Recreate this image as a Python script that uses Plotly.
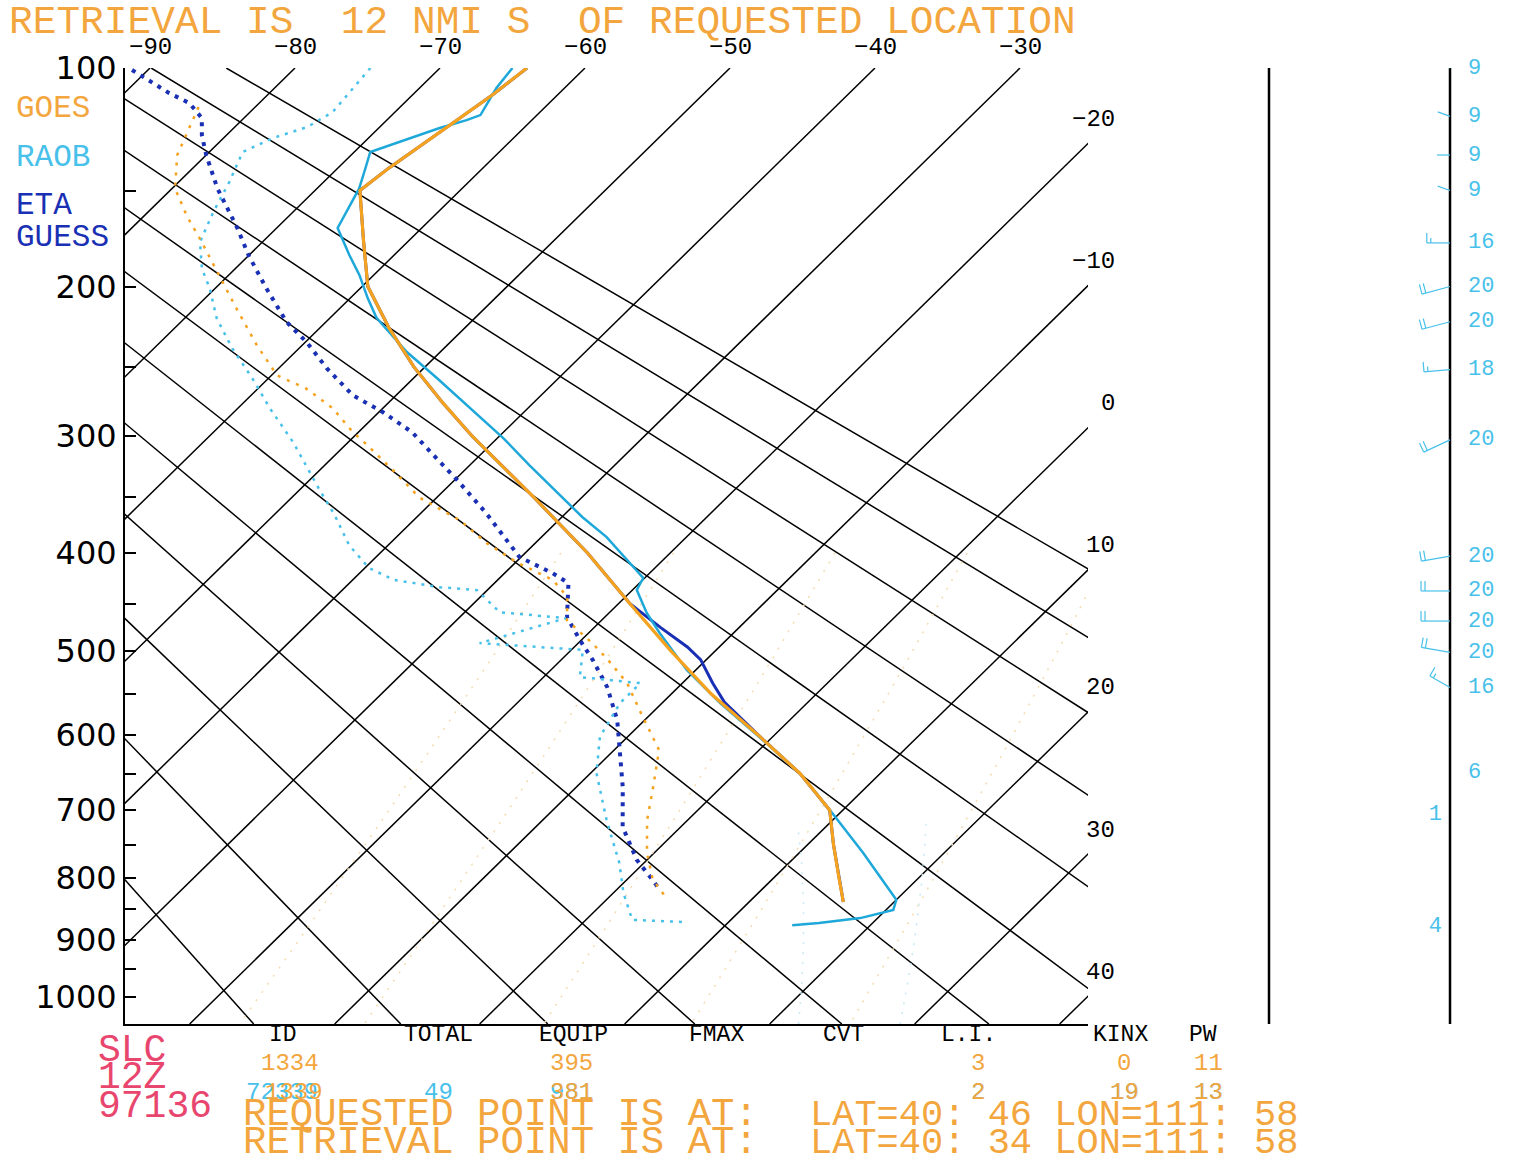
import numpy as np
import plotly.graph_objects as go

# ---- soundings: pressure (hPa), temperature (deg C) ----
goes_p = [100, 110, 120, 130, 140, 150, 175, 200, 225, 250, 275, 300, 350, 400,
          450, 500, 550, 600, 650, 700, 750, 800, 838]
goes_t = [-64.0, -64.5, -65.2, -65.9, -66.5, -66.9, -63.1, -59.6, -55.2, -50.8,
          -46.3, -41.9, -33.3, -25.7, -19.2, -13.1, -7.2, -1.1, 4.5, 9.1, 11.8,
          14.5, 16.5]
goes_td_p = [114.4, 120.3, 134, 149, 162, 175, 194, 213, 236, 256, 265, 279, 297,
             307, 328, 350, 370, 391, 409, 426, 443, 467, 492, 510, 537, 572, 619,
             668, 714, 762, 803, 834]
goes_td = [-83.9, -83.3, -82.0, -79.8, -77.1, -74.3, -70.6, -67.1, -63.1, -59.6,
           -56.7, -53.5, -50.4, -48.5, -44.8, -41.2, -36.8, -33.3, -29.9, -26.2,
           -24.0, -22.4, -19.0, -16.8, -13.8, -10.8, -6.9, -4.7, -2.8, -0.5, 1.8, 4.2]

raob_p = [100, 107.2, 117.5, 119.5, 122.7, 132.7, 139.7, 149, 168.3, 182.4, 193.4,
          206.7, 218.6, 226.1, 240.3, 257.8, 279, 301.6, 323, 367, 385.2, 424.1,
          436, 459.5, 480.7, 521.9, 560.4, 609.9, 649.1, 704.3, 761.9, 834.5,
          850.7, 864, 872.2, 875.6]
raob_t = [-65.0, -64.7, -63.9, -64.5, -65.8, -68.9, -68.1, -67.1, -65.8, -63.1,
          -61.0, -58.8, -56.8, -55.2, -52.3, -48.4, -44.0, -39.6, -35.9, -28.6,
          -25.5, -20.1, -19.7, -17.4, -15.1, -10.6, -6.0, 0.0, 4.4, 9.5, 14.4,
          20.0, 20.5, 18.8, 16.3, 14.6]
raob_td_p = [100, 107.2, 116.4, 122.3, 126.8, 132.7, 146.1, 160.3, 175.6, 189.9,
             200.9, 218.8, 237.9, 258, 279.2, 304.8, 325.3, 343.7, 365.4, 392.6,
             414.5, 426.1, 433.2, 436.2, 458.7, 465, 491.7, 499.2, 529.9, 536.9,
             560.5, 602.3, 649.1, 713.9, 777.1, 823.6, 867, 870.3]
raob_td = [-74.8, -74.6, -74.3, -75.0, -76.6, -77.7, -76.5, -75.5, -74.3, -72.3,
           -70.4, -67.8, -64.6, -61.1, -57.8, -53.8, -51.0, -48.6, -45.8, -42.7,
           -39.7, -37.1, -33.5, -30.7, -27.6, -22.6, -26.8, -19.2, -17.5, -12.9,
           -12.9, -11.9, -9.6, -5.6, -1.7, 0.7, 3.2, 6.8]

eta_p = [100, 110, 120, 130, 140, 150, 175, 200, 225, 250, 275, 300, 350, 400,
         450, 475, 485, 496, 510, 537, 560, 600, 650, 700, 750, 800, 838]
eta_t = [-64.0, -64.5, -65.2, -65.9, -66.5, -66.9, -63.1, -59.6, -55.2, -50.8,
         -46.3, -41.9, -33.3, -25.7, -19.2, -15.4, -13.9, -12.2, -10.4, -7.9,
         -5.7, -1.1, 4.5, 9.1, 11.8, 14.5, 16.5]
eta_td_p = [100.7, 105.1, 109.1, 112.9, 118.7, 125.6, 134, 148.9, 158.3, 168.4,
            182.7, 200.9, 221.2, 233.9, 251, 269.8, 282.2, 297.1, 317.4, 335.4,
            363.6, 403.9, 419.3, 429.1, 463.9, 488.4, 510.5, 541.6, 581.1, 622.8,
            668, 723.9, 772.6, 803.3, 818.9]
eta_td = [-91.1, -88.8, -86.9, -84.8, -82.9, -81.7, -80.0, -76.9, -74.8, -72.7,
          -70.0, -66.5, -62.7, -59.9, -56.7, -53.0, -49.7, -46.3, -42.8, -39.8,
          -35.5, -30.1, -26.7, -24.9, -22.6, -20.1, -17.8, -14.9, -11.9, -9.4,
          -6.8, -4.0, -0.7, 1.8, 3.0]

# winds at the right-hand staff
wind_p = [100, 118, 134, 150, 176, 200, 221, 252, 303, 403, 437, 468, 502, 542, 649, 706, 878]
wind_kt = [9, 9, 9, 9, 16, 20, 20, 18, 20, 20, 20, 20, 20, 16, 6, 1, 4]
wind_dir = [290, 290, 270, 290, 270, 255, 255, 265, 245, 260, 270, 270, 280, 300, 270, 270, 270]

# diagram background
iso_t = list(range(-90, 50, 10))
theta_k = list(range(254, 374, 10))
mix_gkg = [1, 2, 5, 10, 20]
moist_t0 = [22, 29]          # deg C at the bottom of the chart
p_levels = list(range(100, 1050, 50))

# stats block
stat_names = ["ID", "TOTAL", "EQUIP", "FMAX", "CVT", "L.I.", "KINX", "PW"]
goes_stats = ["1334", "", "395", "", "", "3", "0", "11"]
raob_stats = ["72339", "49", "981", "", "", "2", "19", "13"]
goes_stats2 = ["1339", "", "381", "", "", "2", "19", "13"]

KAPPA = 0.286
P_TOP, P_BOT = 100.0, 1050.0
SKEW = 18.79
X_LEFT, X_RIGHT = -91.724, -25.31
MONO = "Liberation Mono"
ORANGE = "#f5a21f"
ORANGE_TXT = "#f3a63e"
CYAN = "#1ea8da"
CYAN_LT = "#48c1ea"
NAVY = "#1a30b4"
PINK = "#e8466e"


def pk(p):
    return np.asarray(p, dtype=float) ** KAPPA


def sx(t, p):
    return np.asarray(t, dtype=float) - SKEW * (pk(p) - pk(P_TOP))


def px(x):
    return (x - 125) / 1392


def py(y):
    return (1024 - y) / 956


def moist_adiabat(t0, p_from, p_to, n=80):
    ps = np.linspace(p_from, p_to, n)
    ts = [t0 + 273.15]
    for i in range(1, n):
        T, p = ts[-1], ps[i - 1]
        es = 6.112 * np.exp(17.67 * (T - 273.15) / (T - 29.65))
        rs = 0.622 * es / (p - es)
        dtdp = (287.0 * T + 2.5e6 * rs) / (1004.0 + 2.5e6 ** 2 * rs * 0.622 / (287.0 * T ** 2)) / p
        ts.append(T + dtdp * (ps[i] - p))
    return ps, np.array(ts) - 273.15


fig = go.Figure()


def line(x, y, color, width, dash="solid", xaxis="x"):
    fig.add_trace(go.Scatter(x=x, y=y, mode="lines", xaxis=xaxis, yaxis="y",
                             line=dict(color=color, width=width, dash=dash),
                             hoverinfo="skip", showlegend=False))


ends = np.array([P_TOP, P_BOT])
for t in iso_t:
    line(sx([t, t], ends), pk(ends), "black", 1.5)
for th in theta_k:
    tt = th * (ends / 1000.0) ** KAPPA - 273.15
    line(sx(tt, ends), pk(ends), "black", 1.5)

pm = np.linspace(400, P_BOT, 30)
for w in mix_gkg:
    e = w * pm / (622.0 + w)
    a = np.log(e / 6.112)
    td = 243.5 * a / (17.67 - a)
    line(sx(td, pm), pk(pm), "#f4dcb2", 1.5, "2px,8px")
for t0 in moist_t0:
    mp, mt = moist_adiabat(t0, P_BOT, 720)
    line(sx(mt, mp), pk(mp), "#c6e9f5", 1.5, "2px,8px")

# soundings
line(sx(eta_td, eta_td_p), pk(eta_td_p), NAVY, 4, "4px,6px")
line(sx(raob_td, raob_td_p), pk(raob_td_p), CYAN_LT, 2.5, "3px,6px")
line(sx(goes_td, goes_td_p), pk(goes_td_p), ORANGE, 2.5, "3px,7px")
line(sx(eta_t, eta_p), pk(eta_p), NAVY, 3)
line(sx(raob_t, raob_p), pk(raob_p), CYAN, 2.5)
line(sx(goes_t, goes_p), pk(goes_p), ORANGE, 3.2)

# wind column
y_span = [float(pk(P_BOT)), float(pk(P_TOP))]
line([1269, 1269], y_span, "black", 2.5, xaxis="x2")
line([1450, 1450], y_span, "black", 2.5, xaxis="x2")

PX_PER_PK = 956 / (pk(P_BOT) - pk(P_TOP))
STAFF = 1450
bx, by = [], []
for p, s, d in zip(wind_p, wind_kt, wind_dir):
    if s < 8:
        continue
    r = np.radians(d)
    ux, uy = np.sin(r), np.cos(r)
    fx, fy = np.cos(r), -np.sin(r)
    y0 = float(pk(p))
    L = 1.45 * s
    bx += [STAFF, STAFF + ux * L, None]
    by += [y0, y0 - uy * L / PX_PER_PK, None]
    n_full, rest = divmod(s, 10)
    feathers = [10] * n_full + ([5] if rest >= 5 and s >= 10 else [])
    pos = L
    for f in feathers:
        x0, y1 = STAFF + ux * pos, y0 - uy * pos / PX_PER_PK
        bx += [x0, x0 + fx * f, None]
        by += [y1, y1 - fy * f / PX_PER_PK, None]
        pos -= 4
fig.add_trace(go.Scatter(x=bx, y=by, mode="lines", xaxis="x2", yaxis="y",
                         line=dict(color=CYAN_LT, width=1.2), hoverinfo="skip",
                         showlegend=False))

big = [i for i, s in enumerate(wind_kt) if s >= 5]
small = [i for i, s in enumerate(wind_kt) if s < 5]
for idx, xpos, pos in ((big, 1468, "middle right"), (small, 1442, "middle left")):
    fig.add_trace(go.Scatter(x=[xpos] * len(idx), y=[float(pk(wind_p[i])) for i in idx],
                             text=[str(wind_kt[i]) for i in idx], mode="text",
                             textposition=pos, xaxis="x2", yaxis="y", cliponaxis=False,
                             textfont=dict(family=MONO, size=22, color=CYAN_LT),
                             hoverinfo="skip", showlegend=False))


def label(txt, x, y, color, size, xanchor="center", family=MONO):
    fig.add_annotation(text=txt.replace(" ", "\u00a0"), x=px(x), y=py(y),
                       xref="paper", yref="paper", xanchor=xanchor,
                       yanchor="middle", showarrow=False,
                       font=dict(family=family, size=size, color=color))


label("RETRIEVAL IS  12 NMI S  OF REQUESTED LOCATION", 7, 22, ORANGE_TXT, 39.5, "left")

# isotherm labels along the top and the right edge
for t in iso_t:
    if t <= -30:
        fig.add_annotation(text=str(t).replace("-", "\u2212"), x=t, y=1, xref="x",
                           yref="paper", yanchor="bottom", yshift=5, showarrow=False,
                           font=dict(family=MONO, size=24, color="black"))
    else:
        yk = float(pk(P_TOP)) + (t - X_RIGHT) / SKEW
        fig.add_annotation(text=str(t).replace("-", "\u2212"), x=px(1117), y=yk,
                           xref="paper", yref="y", xanchor="right", yshift=24,
                           showarrow=False,
                           font=dict(family=MONO, size=24, color="black"))

label("GOES", 14, 108, ORANGE_TXT, 31, "left")
label("RAOB", 14, 157, CYAN_LT, 31, "left")
label("ETA", 14, 205, NAVY, 31, "left")
label("GUESS", 14, 237, NAVY, 31, "left")

head_x = [283, 438, 573, 716, 843, 968, 1120, 1203]
val_x = [290, 438, 571, 716, 843, 978, 1124, 1208]
for i, name in enumerate(stat_names):
    label(name, head_x[i], 1035, "black", 23)
    if goes_stats[i]:
        label(goes_stats[i], val_x[i], 1063, ORANGE_TXT, 24)
    if raob_stats[i]:
        label(raob_stats[i], val_x[i] - (8 if i == 0 else 0), 1092, CYAN_LT, 24)
    if goes_stats2[i]:
        label(goes_stats2[i], val_x[i] + (4 if i == 0 else 0), 1092, ORANGE_TXT, 24)

label("SLC", 96, 1050, PINK, 38, "left")
label("12Z", 96, 1077, PINK, 38, "left")
label("97136", 96, 1106, PINK, 38, "left")

label("REQUESTED POINT IS AT:", 241, 1115, ORANGE_TXT, 39, "left")
label("RETRIEVAL POINT IS AT:", 241, 1143, ORANGE_TXT, 39, "left")
label("LAT=40: 46 LON=111: 58", 1300, 1115, ORANGE_TXT, 37, "right")
label("LAT=40: 34 LON=111: 58", 1300, 1143, ORANGE_TXT, 37, "right")

fig.update_layout(
    width=1517, height=1172,
    margin=dict(l=125, r=0, t=68, b=148),
    paper_bgcolor="white", plot_bgcolor="white", showlegend=False,
    xaxis=dict(domain=[0, 963 / 1392], range=[X_LEFT, X_RIGHT], showgrid=False,
               zeroline=False, showticklabels=False, ticks="", showline=True,
               linecolor="black", linewidth=2),
    xaxis2=dict(domain=[1125 / 1392, 1], range=[1250, 1517], anchor="y",
                visible=False),
    yaxis=dict(range=[float(pk(P_BOT)), float(pk(P_TOP))],
               tickvals=[float(v) for v in pk(p_levels)],
               ticktext=[str(p) if p % 100 == 0 else "" for p in p_levels],
               ticks="inside", ticklen=11, tickwidth=2, tickcolor="black",
               showline=True, linecolor="black", linewidth=2, showgrid=False,
               zeroline=False, ticklabelstandoff=0,
               tickfont=dict(family="DejaVu Sans", size=32, color="black")),
)

fig.write_html("out.html", config={"displayModeBar": False},
               post_script="document.body.style.margin='0px';")
